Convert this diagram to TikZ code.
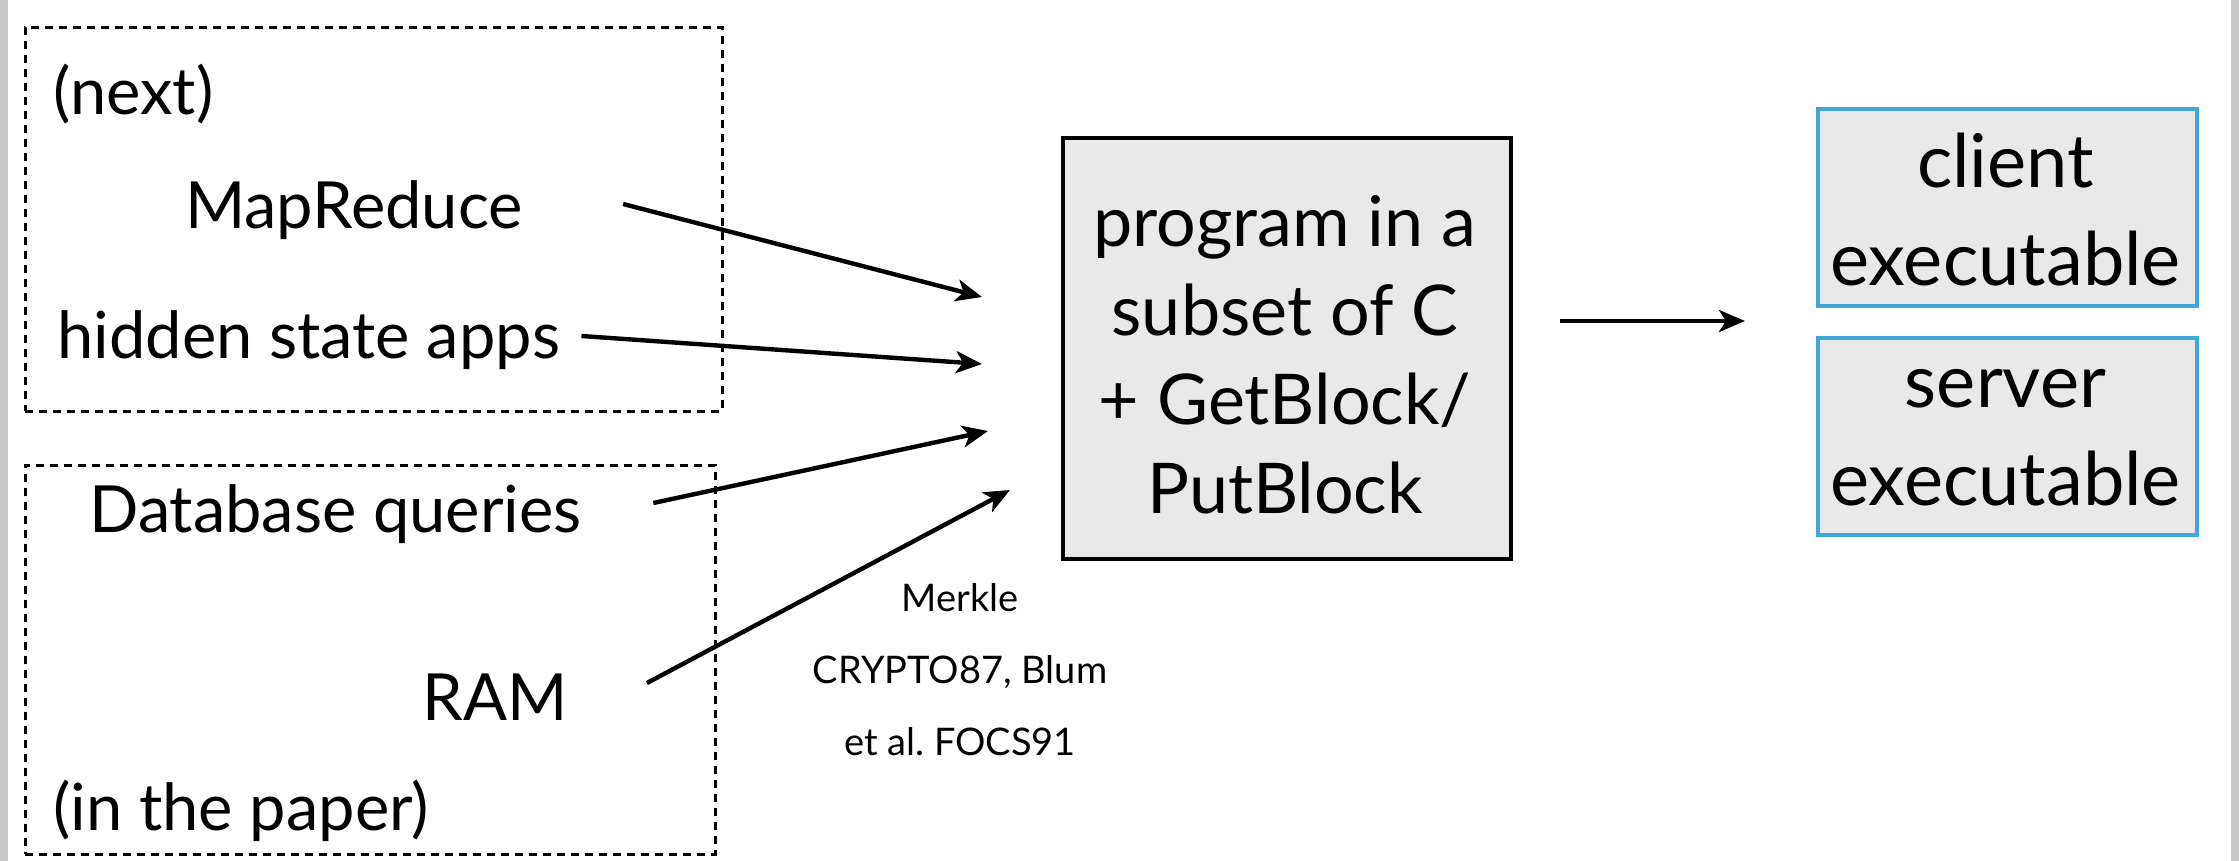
\documentclass[tikz,border=0pt]{standalone}
\usepackage{fontspec}
\setmainfont{Lato}
\usetikzlibrary{arrows.meta}
\definecolor{boxgray}{HTML}{E9E9E9}
\definecolor{edgeblue}{HTML}{3FA7DB}
\definecolor{rimgray}{HTML}{C8C8C8}
\tikzset{
  grp/.style={draw=black, line width=1.3pt, dash pattern=on 4pt off 3pt,
    anchor=north west, inner sep=0pt},
  mainbox/.style={draw=black, fill=boxgray, line width=2pt, anchor=north west,
    inner sep=0pt},
  outbox/.style={draw=edgeblue, fill=boxgray, line width=2pt, anchor=north west,
    inner sep=0pt},
  lbl/.style={font=\fontsize{32.5}{38}\selectfont, inner sep=0pt},
  boxtxt/.style={font=\fontsize{35}{44.5}\selectfont, align=center, inner sep=0pt},
  outtxt/.style={font=\fontsize{37}{49}\selectfont, align=center, inner sep=0pt},
  note/.style={font=\fontsize{19}{36}\selectfont, align=center, inner sep=0pt},
  arr/.style={-{Stealth[length=13pt,width=11pt,inset=3.5pt]}, line width=2.2pt}
}
\begin{document}
\frenchspacing
\begin{tikzpicture}[x=0.5pt,y=-0.5pt]
  % canvas and screen rims
  \path[fill=white] (0,0) rectangle (2239,861);
  \useasboundingbox (0,0) rectangle (2239,861);
  \fill[rimgray] (0,0) rectangle (8,861);
  \fill[rimgray] (2231,0) rectangle (2239,861);

  % dashed groups
  \node[grp, minimum width=348.5pt, minimum height=192pt] (top) at (24,26) {};
  \node[grp, minimum width=345pt, minimum height=194.5pt] (bot) at (24,464) {};

  % group labels
  \node[lbl, anchor=west] (next) at (53,94) {(next)};
  \node[lbl] (mapreduce) at (354,210) {MapReduce};
  \node[lbl, anchor=west] (hidden) at (57,340) {hidden state apps};
  \node[lbl, anchor=west] (dbq) at (89,514) {Database queries};
  \node[lbl, anchor=east] (ram) at (568,697) {RAM};
  \node[lbl, anchor=west] (paper) at (53,811) {(in the paper)};

  % central program box
  \node[mainbox, minimum width=224pt, minimum height=210.5pt] (prog) at (1061,136) {};
  \node[boxtxt] (progtxt) at (1285,355) {program in a\\subset of C\\+ GetBlock/\\PutBlock};

  % outputs
  \node[outbox, minimum width=189.5pt, minimum height=98.5pt] (client) at (1816,107) {};
  \node[outtxt] (clienttxt) at (2005.5,210) {client\\executable};
  \node[outbox, minimum width=189.5pt, minimum height=98.5pt] (server) at (1816,336) {};
  \node[outtxt] (servertxt) at (2005.5,438) {server\\executable};

  % citation
  \node[note] (cite) at (960,670) {Merkle\\CRYPTO87, Blum\\et al. FOCS91};

  % arrow targets in front of the program box
  \coordinate (in1) at (982,297);
  \coordinate (in2) at (982,364);
  \coordinate (in3) at (988,431);
  \coordinate (in4) at (1010,490);
  \coordinate (outs) at (1745,321);

  \draw[arr] ([shift={(100,-6)}]mapreduce.east) -- (in1);
  \draw[arr] ([shift={(21,-4)}]hidden.east) -- (in2);
  \draw[arr] ([shift={(71,-11)}]dbq.east) -- (in3);
  \draw[arr] ([shift={(79,-14)}]ram.east) -- (in4);
  \draw[arr, shorten <=23.5pt] (prog.east |- outs) -- (outs);
\end{tikzpicture}
\end{document}
